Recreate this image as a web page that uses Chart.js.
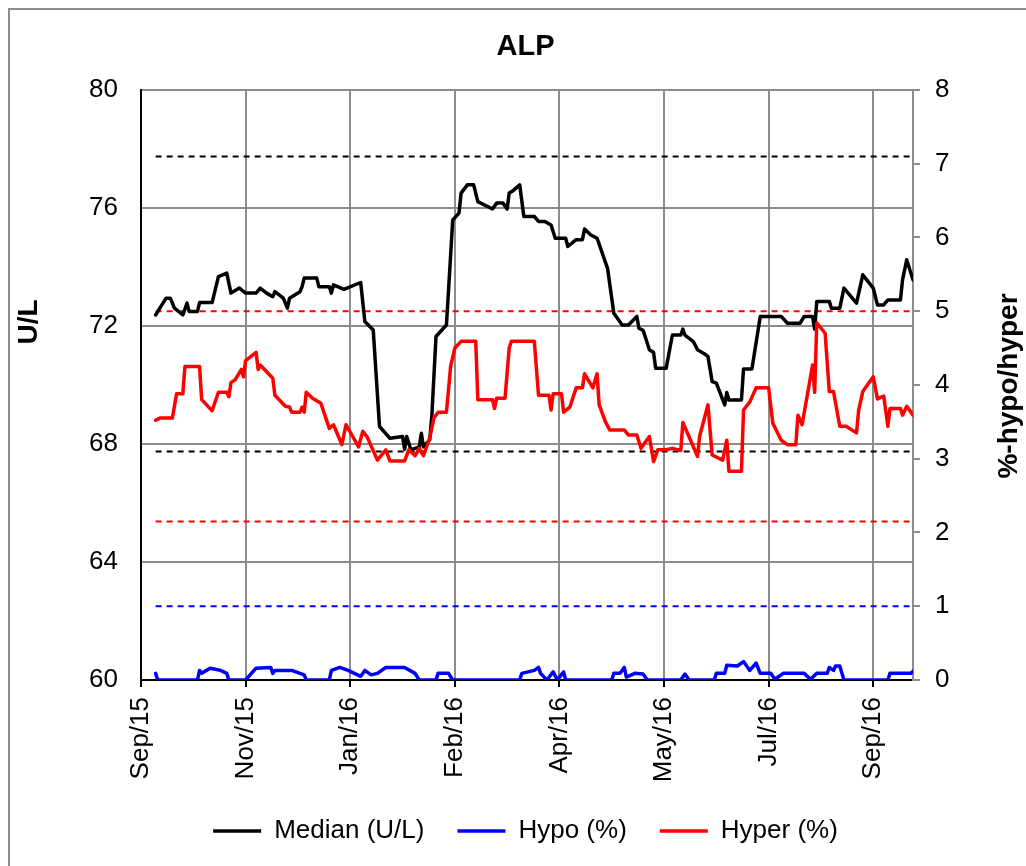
<!DOCTYPE html>
<html>
<head>
<meta charset="utf-8">
<title>ALP</title>
<script src="https://cdn.jsdelivr.net/npm/chart.js@4"></script>
<style>
  html, body { margin: 0; padding: 0; background: #fff; }
</style>
</head>
<body>
<canvas id="alpChart" width="1026" height="866"></canvas>
<script>
// x values are days counted from 23 Sep 2015
const xTickDays = [0, 50, 100, 150, 200, 250, 300, 350];
const xTickLabels = ['Sep/15', 'Nov/15', 'Jan/16', 'Feb/16', 'Apr/16', 'May/16', 'Jul/16', 'Sep/16'];

const medianDays = [7, 9, 12, 14, 16, 20, 22, 23, 27, 28, 34, 37, 41, 43, 47, 50, 55, 57, 60, 63, 64, 68, 70, 71, 76, 77, 78, 84, 85, 90, 91, 92, 97, 105, 107, 111, 114, 119, 125, 126, 127, 129, 133, 134, 135, 138, 139, 141, 146, 149, 152, 153, 156, 159, 161, 168, 170, 173, 175, 176, 178, 181, 183, 188, 190, 193, 196, 198, 203, 204, 208, 211, 212, 215, 218, 223, 226, 230, 233, 237, 238, 240, 243, 245, 246, 251, 254, 258, 259, 260, 264, 266, 270, 271, 273, 275, 279, 280, 281, 287, 288, 292, 296, 306, 309, 315, 317, 321, 322, 323, 329, 330, 334, 336, 342, 345, 350, 352, 355, 357, 363, 364, 366, 369];
const medianVals = [72.37, 72.6, 72.94, 72.94, 72.6, 72.37, 72.77, 72.49, 72.49, 72.79, 72.79, 73.67, 73.79, 73.11, 73.28, 73.11, 73.11, 73.28, 73.11, 72.99, 73.16, 72.94, 72.6, 72.94, 73.16, 73.33, 73.62, 73.62, 73.33, 73.33, 73.11, 73.39, 73.24, 73.47, 72.15, 71.86, 68.59, 68.19, 68.25, 67.82, 68.25, 67.8, 67.9, 68.36, 67.9, 68.14, 68.93, 71.64, 72.03, 75.59, 75.82, 76.5, 76.78, 76.78, 76.21, 75.96, 76.16, 76.16, 75.96, 76.5, 76.59, 76.78, 75.71, 75.71, 75.54, 75.54, 75.42, 74.97, 74.97, 74.69, 74.92, 74.92, 75.28, 75.08, 74.97, 73.95, 72.43, 72.03, 72.03, 72.32, 71.92, 71.85, 71.19, 71.1, 70.56, 70.56, 71.69, 71.69, 71.89, 71.69, 71.47, 71.19, 71.02, 70.96, 70.11, 70.06, 69.32, 69.74, 69.49, 69.49, 70.54, 70.54, 72.32, 72.32, 72.09, 72.09, 72.32, 72.32, 71.89, 72.83, 72.83, 72.6, 72.6, 73.28, 72.77, 73.73, 73.28, 72.71, 72.71, 72.88, 72.88, 73.56, 74.24, 73.56];

const hypoDays = [7, 8, 27, 28, 29, 33, 35, 38, 41, 42, 50, 55, 62, 63, 64, 72, 78, 79, 90, 91, 95, 99, 105, 107, 110, 113, 117, 126, 131, 133, 141, 142, 147, 149, 181, 182, 188, 190, 191, 194, 197, 199, 202, 203, 225, 226, 229, 231, 232, 236, 240, 242, 258, 260, 262, 274, 275, 279, 280, 285, 288, 291, 294, 296, 301, 303, 307, 317, 320, 323, 328, 329, 331, 332, 334, 336, 357, 358, 368, 369];
const hypoVals = [0.09, 0, 0, 0.13, 0.09, 0.16, 0.15, 0.13, 0.09, 0, 0, 0.16, 0.17, 0.09, 0.13, 0.13, 0.07, 0, 0, 0.13, 0.17, 0.13, 0.05, 0.13, 0.07, 0.09, 0.17, 0.17, 0.09, 0, 0, 0.09, 0.09, 0, 0, 0.09, 0.13, 0.17, 0.09, 0, 0.11, 0, 0.11, 0, 0, 0.09, 0.09, 0.17, 0.04, 0.09, 0.08, 0, 0, 0.08, 0, 0, 0.09, 0.09, 0.2, 0.19, 0.25, 0.13, 0.23, 0.09, 0.09, 0.01, 0.09, 0.09, 0.01, 0.09, 0.09, 0.17, 0.13, 0.19, 0.19, 0, 0, 0.09, 0.09, 0.12];

const hyperDays = [7, 9, 15, 17, 20, 21, 28, 29, 34, 37, 41, 42, 43, 45, 48, 49, 50, 55, 56, 57, 63, 64, 69, 71, 72, 76, 77, 78, 79, 82, 86, 90, 92, 96, 98, 104, 106, 108, 113, 117, 119, 126, 128, 131, 133, 135, 138, 140, 142, 146, 148, 150, 153, 160, 161, 168, 169, 170, 174, 176, 177, 188, 190, 195, 196, 197, 201, 202, 205, 208, 211, 212, 216, 218, 219, 222, 224, 231, 233, 237, 239, 243, 245, 247, 251, 254, 258, 259, 263, 266, 267, 271, 273, 278, 280, 281, 287, 288, 291, 294, 300, 302, 306, 309, 313, 314, 316, 321, 322, 323, 327, 329, 331, 334, 337, 342, 343, 345, 350, 352, 355, 357, 358, 363, 364, 366, 369];
const hyperVals = [3.52, 3.55, 3.55, 3.88, 3.88, 4.25, 4.25, 3.8, 3.65, 3.9, 3.9, 3.84, 4.03, 4.07, 4.21, 4.11, 4.33, 4.44, 4.21, 4.27, 4.09, 3.86, 3.71, 3.7, 3.63, 3.63, 3.7, 3.63, 3.9, 3.82, 3.75, 3.41, 3.46, 3.19, 3.46, 3.16, 3.37, 3.3, 2.98, 3.12, 2.97, 2.97, 3.12, 3.04, 3.14, 3.04, 3.28, 3.55, 3.63, 3.63, 4.25, 4.5, 4.59, 4.59, 3.8, 3.8, 3.68, 3.82, 3.82, 4.5, 4.59, 4.59, 3.86, 3.86, 3.66, 3.88, 3.88, 3.63, 3.7, 3.96, 3.96, 4.15, 3.96, 4.15, 3.73, 3.5, 3.39, 3.39, 3.32, 3.32, 3.14, 3.3, 2.96, 3.12, 3.12, 3.14, 3.11, 3.49, 3.23, 3.03, 3.3, 3.73, 3.05, 2.98, 3.25, 2.83, 2.83, 3.66, 3.77, 3.96, 3.96, 3.48, 3.25, 3.19, 3.19, 3.59, 3.46, 4.27, 3.9, 4.84, 4.7, 3.91, 3.91, 3.44, 3.44, 3.35, 3.65, 3.91, 4.11, 3.81, 3.85, 3.44, 3.68, 3.68, 3.59, 3.71, 3.59];

// dashed reference lines
const limitDays = [7, 369];
const medianLimits = [77.74, 67.74];
const hyperLimits = [5.0, 2.15];
const hypoLimits = [1.0];

const GRID = '#8c8c8c';
Chart.defaults.font.family = "'Liberation Sans', Arial, sans-serif";
Chart.defaults.color = '#000';

function pts(days, vals) {
  return days.map((d, i) => ({ x: d, y: vals[i] }));
}

function limitLine(value, color, axis) {
  return {
    label: '',
    data: pts(limitDays, [value, value]),
    borderColor: color,
    borderWidth: 2,
    borderDash: [6, 5],
    pointRadius: 0,
    yAxisID: axis,
    order: 10
  };
}

function series(label, days, vals, color, axis, order) {
  return {
    label,
    data: pts(days, vals),
    borderColor: color,
    borderWidth: 3.5,
    borderJoinStyle: 'round',
    borderCapStyle: 'round',
    pointRadius: 0,
    pointStyle: 'line',
    yAxisID: axis,
    order
  };
}

const datasets = [
  series('Median (U/L)', medianDays, medianVals, '#000000', 'y', 3),
  series('Hypo (%)', hypoDays, hypoVals, '#0000ff', 'y1', 2),
  series('Hyper (%)', hyperDays, hyperVals, '#ff0000', 'y1', 1)
];
medianLimits.forEach(v => datasets.push(limitLine(v, '#000000', 'y')));
hyperLimits.forEach(v => datasets.push(limitLine(v, '#ff0000', 'y1')));
hypoLimits.forEach(v => datasets.push(limitLine(v, '#0000ff', 'y1')));

// frame round the chart + axis titles (right one reads bottom to top)
const extras = {
  id: 'extras',
  beforeDraw(chart) {
    const ctx = chart.ctx;
    ctx.save();
    ctx.fillStyle = '#fff';
    ctx.fillRect(0, 0, chart.width, chart.height);
    ctx.strokeStyle = '#8c8c8c';
    ctx.lineWidth = 2;
    ctx.strokeRect(9, 9, 1200, 1200);
    ctx.restore();
  },
  afterDraw(chart) {
    const ctx = chart.ctx;
    ctx.save();
    ctx.fillStyle = '#000';
    ctx.font = "bold 28px 'Liberation Sans', Arial, sans-serif";
    ctx.textAlign = 'center';
    ctx.textBaseline = 'middle';
    ctx.translate(29, 322);
    ctx.rotate(-Math.PI / 2);
    ctx.fillText('U/L', 0, 0);
    ctx.restore();

    ctx.save();
    ctx.fillStyle = '#000';
    ctx.font = "bold 28px 'Liberation Sans', Arial, sans-serif";
    ctx.textAlign = 'center';
    ctx.textBaseline = 'middle';
    ctx.translate(1009, 386);
    ctx.rotate(-Math.PI / 2);
    ctx.fillText('%-hypo/hyper', 0, 0);
    ctx.restore();
  }
};

new Chart(document.getElementById('alpChart'), {
  type: 'line',
  data: { datasets },
  plugins: [extras],
  options: {
    responsive: false,
    animation: false,
    devicePixelRatio: 1,
    layout: { padding: { left: 25, right: 0, top: 0, bottom: 12 } },
    plugins: {
      title: {
        display: true,
        text: 'ALP',
        color: '#000',
        font: { size: 29, weight: 'bold' },
        padding: { top: 30, bottom: 25 }
      },
      legend: {
        position: 'bottom',
        labels: {
          usePointStyle: true,
          pointStyleWidth: 48,
          color: '#000',
          font: { size: 26 },
          padding: 33,
          filter: item => item.text !== '',
          sort: (a, b) => a.datasetIndex - b.datasetIndex
        }
      },
      tooltip: { enabled: false }
    },
    scales: {
      x: {
        type: 'linear',
        position: 'bottom',
        min: 0,
        max: 369,
        afterBuildTicks: s => { s.ticks = xTickDays.map(v => ({ value: v })); },
        afterFit: s => { s.height = 105; },
        ticks: {
          autoSkip: false,
          minRotation: 90,
          maxRotation: 90,
          padding: 10,
          color: '#000',
          font: { size: 26 },
          callback: (v, i) => xTickLabels[i]
        },
        grid: {
          color: c => (c.index === 0 ? 'rgba(0,0,0,0)' : GRID),
          lineWidth: 2,
          tickColor: '#000',
          tickLength: 7
        },
        border: { color: '#000', width: 2 }
      },
      y: {
        position: 'left',
        min: 60,
        max: 80,
        afterFit: s => { s.width = 116; },
        ticks: { stepSize: 4, padding: 23, color: '#000', font: { size: 26 } },
        grid: {
          color: c => (c.index === 0 ? 'rgba(0,0,0,0)' : GRID),
          lineWidth: 2,
          drawTicks: false
        },
        border: { color: '#000', width: 2 }
      },
      y1: {
        position: 'right',
        min: 0,
        max: 8,
        afterFit: s => { s.width = 113; },
        ticks: { stepSize: 1, padding: 15, color: '#000', font: { size: 26 } },
        grid: {
          drawOnChartArea: false,
          color: GRID,
          lineWidth: 2,
          tickLength: 7
        },
        border: { color: GRID, width: 2 }
      }
    }
  }
});
</script>
</body>
</html>
